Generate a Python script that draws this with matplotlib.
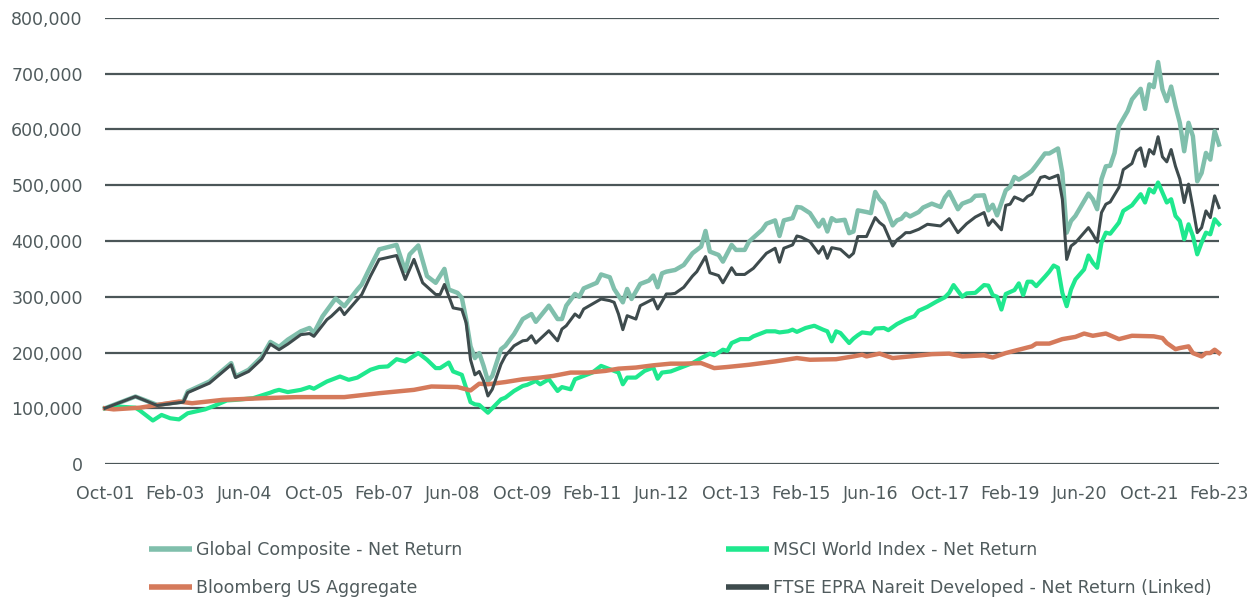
import matplotlib
matplotlib.use("Agg")
import matplotlib.pyplot as plt
from matplotlib.ticker import FuncFormatter
import numpy as np

# months since Oct-2001 and values (thousands)
global_m = [0,2,7,12,18,19,24,29,30,33,36,38,40,42,45,46,47,48,50,53,55,58,59,61,63,67,69,70,72,74,76,78,79,81,82,83,84,85,86,87,88,89,91,92,94,96,98,99,102,104,105,106,108,109,110,113,114,116,117,119,120,121,123,125,126,127,128,129,131,133,135,136,137,138,139,141,142,144,145,147,148,151,152,154,155,156,158,159,160,162,164,165,166,167,168,170,171,172,173,175,176,177,178,179,181,182,183,184,185,187,188,190,192,193,194,196,197,199,200,202,203,204,205,207,208,209,210,212,213,214,216,217,219,220,221,222,223,226,227,228,229,230,231,232,233,235,236,238,239,240,241,242,243,244,245,246,247,248,249,250,251,252,253,254,255,256]
global_v = [100,106,121,106,112,130,148,181,157,169,192,219,210,223,238,241,244,235,265,297,283,313,322,354,385,393,346,376,392,337,325,350,313,307,298,259,211,190,199,176,149,158,206,212,233,260,269,255,284,260,260,284,305,300,315,325,340,335,314,290,314,296,323,329,338,317,342,345,348,357,378,384,390,418,381,375,363,393,384,384,399,420,431,437,409,437,441,461,460,450,426,438,417,441,436,438,414,417,455,452,450,488,475,467,428,437,440,449,444,452,460,467,461,478,488,457,467,473,481,482,455,465,446,491,497,515,510,520,526,536,557,557,566,522,415,436,445,485,475,457,511,534,535,558,606,633,654,673,637,681,676,721,672,651,677,642,612,561,612,588,507,522,558,546,597,573]

msci_m = [0,3,7,8,11,13,15,17,19,23,25,28,30,34,38,39,40,42,45,47,48,51,54,56,58,61,63,65,67,69,72,74,76,77,79,80,82,83,84,85,86,88,89,91,92,94,96,97,99,100,102,104,105,107,108,110,112,114,115,118,119,120,122,124,126,127,128,130,132,135,137,139,140,142,143,144,146,148,149,152,154,155,157,158,159,161,163,165,166,167,168,169,171,172,173,174,176,177,179,180,182,184,186,187,189,191,193,194,195,197,198,200,202,203,204,205,206,207,209,210,211,212,213,214,216,217,218,219,220,221,222,223,225,226,227,228,229,230,231,233,234,236,238,239,240,241,242,243,244,245,246,247,248,249,250,251,252,253,254,255,256]
msci_v = [100,103,101,96,78,88,82,80,91,98,104,114,115,118,128,131,133,129,133,138,135,148,157,151,155,169,174,175,188,184,199,187,172,172,182,166,160,136,111,107,106,92,100,116,119,131,140,142,149,143,152,131,138,134,152,158,164,176,173,164,143,155,155,167,173,153,164,166,172,181,190,198,195,205,203,217,224,224,229,238,238,236,238,241,237,244,248,241,238,220,238,235,217,225,231,236,234,243,244,240,251,259,265,275,282,291,299,307,321,300,306,307,321,320,303,300,277,305,312,324,303,327,327,319,336,345,356,352,307,283,313,331,349,374,361,352,397,415,413,433,454,464,484,469,493,487,505,487,469,475,445,436,403,430,409,376,397,415,412,439,430]

bbg_m = [0,2,8,17,20,27,36,44,55,63,71,75,81,84,86,88,92,96,100,103,107,111,115,118,122,126,130,133,137,140,143,148,154,159,162,168,172,174,175,178,181,185,190,194,197,202,204,207,210,213,214,217,220,223,225,227,230,233,236,241,243,244,246,247,249,250,252,253,254,255,256]
bbg_v = [100,98,101,112,109,115,118,120,120,127,133,139,138,132,144,143,147,152,155,158,164,164,167,171,173,177,180,180,181,172,174,178,184,190,187,188,193,196,193,198,190,193,197,198,193,195,191,199,205,211,216,216,224,228,234,230,234,224,230,229,226,217,206,208,211,199,193,199,199,205,199]

ftse_m = [0,2,7,12,18,19,24,29,30,33,36,38,40,42,45,47,48,51,52,54,55,59,61,63,67,69,71,73,76,77,78,80,82,83,84,85,86,87,88,89,91,92,94,96,97,98,99,102,104,105,106,108,109,110,112,114,116,117,118,119,120,122,123,126,127,129,130,131,133,135,136,138,139,141,142,144,145,147,149,151,152,154,155,156,158,159,160,162,164,165,166,167,169,171,172,173,175,177,178,179,181,182,183,184,185,187,189,192,194,196,198,200,202,203,204,206,207,208,209,211,212,213,215,216,217,219,220,221,222,223,226,227,228,229,230,231,233,234,236,237,238,239,240,241,242,243,244,245,246,247,248,249,250,251,252,253,254,255,256]
ftse_v = [100,106,121,105,111,128,145,178,155,166,188,215,205,215,232,234,229,259,265,280,268,304,337,367,374,331,367,325,304,304,322,280,277,253,187,160,166,149,122,134,179,194,212,221,222,230,217,239,221,242,248,269,263,278,287,296,293,290,269,241,266,260,284,296,278,305,305,306,317,337,345,372,343,338,325,352,340,340,351,369,378,387,362,387,393,409,407,399,378,390,369,388,385,371,378,408,408,442,433,427,391,402,408,415,415,421,430,427,440,415,431,443,451,428,438,420,464,466,479,472,480,484,514,516,512,518,475,367,391,397,424,412,398,451,466,470,496,528,539,561,567,534,564,556,587,551,542,564,534,511,469,502,460,415,424,454,442,481,460]

x_labels = ["Oct-01","Feb-03","Jun-04","Oct-05","Feb-07","Jun-08","Oct-09","Feb-11",
            "Jun-12","Oct-13","Feb-15","Jun-16","Oct-17","Feb-19","Jun-20","Oct-21","Feb-23"]

names = ["Global Composite - Net Return", "MSCI World Index - Net Return",
         "Bloomberg US Aggregate", "FTSE EPRA Nareit Developed - Net Return (Linked)"]
colors = ["#80bfac", "#1fe88e", "#d57a5b", "#3e4b4d"]

plt.rcParams['font.family'] = ['DejaVu Sans']
fig = plt.figure(figsize=(12.57, 6.0), dpi=100)
ax = fig.add_axes([105/1257, 1-464/600, (1219-105)/1257, (464-18)/600])

scale = 1000
lg, = ax.plot(global_m, np.array(global_v)*scale, color=colors[0], lw=3.2, zorder=3, solid_joinstyle='round')
lm, = ax.plot(msci_m, np.array(msci_v)*scale, color=colors[1], lw=3.0, zorder=4, solid_joinstyle='round')
lb, = ax.plot(bbg_m, np.array(bbg_v)*scale, color=colors[2], lw=3.2, zorder=4, solid_joinstyle='round')
lf, = ax.plot(ftse_m, np.array(ftse_v)*scale, color=colors[3], lw=2.2, zorder=5, solid_joinstyle='round')

ax.set_xlim(0, 256)
ax.set_ylim(0, 800000)
ax.set_yticks(np.arange(0, 800001, 100000))
ax.yaxis.set_major_formatter(FuncFormatter(lambda v, p: f"{int(v):,}"))
ax.set_xticks(np.arange(0, 257, 16))
ax.set_xticklabels(x_labels)
ax.grid(axis='y', color="#4b5658", lw=1.6, zorder=1)
ax.set_axisbelow(True)
for s in ax.spines.values():
    s.set_visible(False)
ax.tick_params(axis='y', length=0, pad=16, labelsize=12.5, labelcolor="#505b5d")
ax.tick_params(axis='x', length=0, pad=15, labelsize=12.5, labelcolor="#505b5d")
for l in (lg, lm, lb, lf):
    l.set_clip_on(False)

leg = fig.legend([lg, lb, lm, lf], [names[0], names[2], names[1], names[3]],
                 ncol=2, loc='upper left', bbox_to_anchor=(149/1257, 1-541/600),
                 frameon=False, fontsize=12.5, handlelength=2.5, handletextpad=0.2,
                 labelspacing=1.17, columnspacing=15.2, borderaxespad=0, borderpad=0)
for t in leg.get_texts():
    t.set_color("#505b5d")
for h in leg.legend_handles:
    h.set_linewidth(4)
    h.set_solid_capstyle('butt')

fig.savefig("out.png", dpi=100)
